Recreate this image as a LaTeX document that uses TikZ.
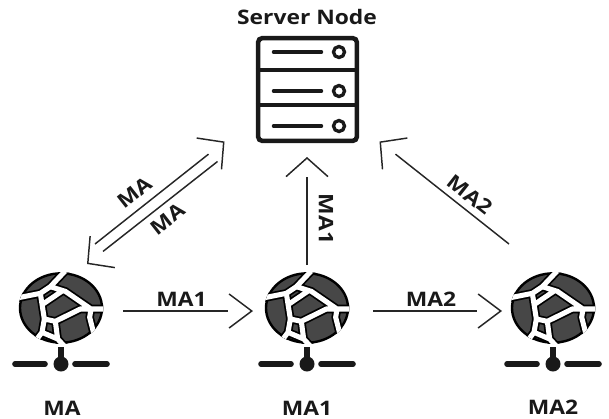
\documentclass[tikz,border=0pt]{standalone}
\usepackage{fontspec}
\setmainfont[FakeStretch=1.14]{Open Sans}
\usepackage{tikz}
\usetikzlibrary{positioning, arrows.meta}

\newcommand{\globelinks}{
    (205,10) -- (150,68) -- (120,88) -- (35,105)
    (120,88) -- (132,165) -- (125,205) -- (95,245)
    (132,165) -- (165,172) -- (240,135) -- (272,135) -- (325,135)
    (150,68) -- (195,82) -- (272,135)
    (128,120) -- (190,78)
    (165,172) -- (172,225) -- (200,255)
    (272,135) -- (268,160) -- (282,215) -- (270,250)
    (125,205) -- (172,225)
}

\tikzset{
    pics/agent/.style={code={
        % Globe with its links
        \begin{scope}[x=0.25pt, y=-0.25pt, shift={(-182,-132)}]
            \fill[black!72, draw=black, line width=1.8pt] (182,132) ellipse (123 and 104);
            \clip (182,132) ellipse (127 and 108);
            \draw[black, line width=6.4pt, line join=round] \globelinks;
            \draw[white, line width=3.8pt, line join=round] \globelinks;
        \end{scope}
        % Network bar
        \draw[wire] (-46,56) -- (-16,56);
        \draw[wire] (14,56) -- (46,56);
        \draw[line width=4.5pt, black!90] (0,39) -- (0,56);
        \fill[black!90] (0,56) circle (7.5);
    }}
}

\begin{document}
\begin{tikzpicture}[
    x=0.75pt, y=-0.75pt,
    wire/.style={line width=4.2pt, line cap=round, black!90},
    host/.style={minimum width=64pt, minimum height=52pt, inner sep=0pt},
    rack/.style={draw=black!90, line width=3.4pt, rounded corners=3pt, minimum width=74pt, minimum height=77pt, inner sep=0pt},
    tag/.style={font=\fontsize{15}{17}\selectfont\bfseries, text=black!90, inner sep=0pt},
    arrow/.style={black!85, line width=1.1pt, -{. Straight Barb[length=#1]}}
]
    \useasboundingbox (0,0) rectangle (609,418);

    % Nodes
    \node[rack] (server) at (307.5,89.5) {};
    \node[tag] (title) at (307,17) {Server Node};
    \node[host] (ma) at (61,308) {};
    \node[host] (ma1) at (307,308) {};
    \node[host] (ma2) at (553,308) {};
    \foreach \n in {ma, ma1, ma2} \pic at (\n) {agent};
    \node[tag] (malabel) at (62,408) {MA};
    \node[tag] (maonelabel) at (307,408) {MA1};
    \node[tag] (matwolabel) at (553,407) {MA2};

    % Server rows
    \foreach \yy in {-19.5, 15.5} \draw[black!90, line width=3.2pt] ([yshift=\yy*0.75pt*-1]server.center -| server.west) -- ([yshift=\yy*0.75pt*-1]server.center -| server.east);
    \foreach \yy in {-37.5, 1.5, 36.5} {
        \draw[black!90, line width=2.6pt, line cap=round] ([shift={(-34,\yy)}]server.center) -- ([shift={(14,\yy)}]server.center);
        \draw[black!90, line width=2.5pt] ([shift={(31.5,\yy)}]server.center) circle (5.5);
    }

    % Arrows
    \draw[arrow={14pt, width=30pt}] ([shift={(34,-64)}]ma.center) -- ([shift={(-83,52)}]server.center) node[pos=0.38, above, sloped, tag, yshift=6pt] {MA};
    \draw[arrow={14pt, width=30pt}] ([shift={(-90,72)}]server.center) -- ([shift={(26,-44)}]ma.center) node[pos=0.45, below, sloped, tag, yshift=-5pt] {MA};
    \draw[arrow={14pt, width=31.5pt}] ([yshift=6pt]ma1.north) -- (307,157);
    \node[tag, rotate=-90] (vertlabel) at (326,219) {MA1};
    \draw[arrow={14pt, width=30pt}] ([shift={(-44,-64)}]ma2.center) -- ([shift={(72,52)}]server.center) node[pos=0.37, above, sloped, tag, yshift=5pt] {MA2};
    \draw[arrow={17pt, width=25.5pt}] ([shift={(62,3)}]ma.center) -- ([shift={(-54,3)}]ma1.center) node[pos=0.45, above, tag, yshift=3pt] {MA1};
    \draw[arrow={17pt, width=25.5pt}] ([shift={(66,3)}]ma1.center) -- ([shift={(-51,3)}]ma2.center) node[pos=0.45, above, tag, yshift=3pt] {MA2};
\end{tikzpicture}
\end{document}
